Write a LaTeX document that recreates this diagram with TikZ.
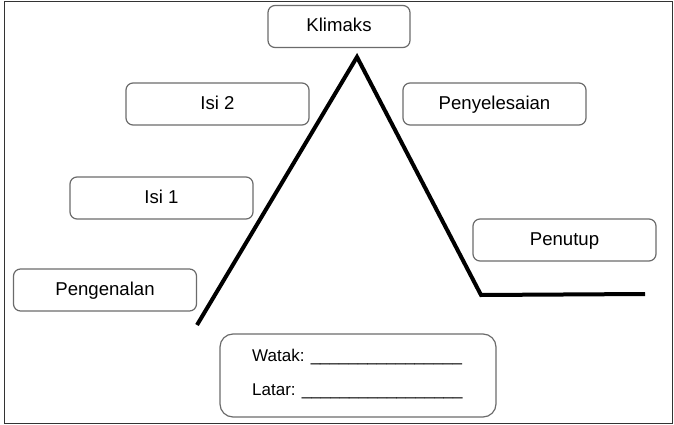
\documentclass[tikz,border=0pt]{standalone}
\usepackage{fontspec}
\setmainfont{Liberation Sans}
\begin{document}
\begin{tikzpicture}[x=1pt,y=-1pt,
  stage/.style={draw=black!58, line width=1.2pt, rounded corners=7pt,
    minimum width=183pt, minimum height=42pt, inner sep=0pt,
    text height=11pt, text depth=0pt,
    font=\fontsize{18.6}{20}\selectfont},
  plotline/.style={line width=4pt, line join=miter, black},
  fieldtext/.style={anchor=base west, inner sep=0pt, font=\fontsize{17}{19}\selectfont}]
\useasboundingbox (0,0) rectangle (674,425);
\draw[line width=1.5pt, black!80] (4.5,1.5) rectangle (672.5,423.5);
\node[stage, minimum width=142pt] (klimaks) at (339,26.5) {Klimaks};
\node[stage] (isi2) at (217.5,104) {Isi 2};
\node[stage] (penyelesaian) at (494.5,104) {Penyelesaian};
\node[stage] (isi1) at (161.5,198) {Isi 1};
\node[stage] (penutup) at (564.5,240) {Penutup};
\node[stage] (pengenalan) at (105,290) {Pengenalan};
\node[stage, minimum width=276pt, minimum height=83pt, rounded corners=13pt, text height=0pt] (info) at (358,375.5) {};
\node[fieldtext] (watak) at (252,361) {Watak: \_\_\_\_\_\_\_\_\_\_\_\_\_\_\_\_};
\node[fieldtext] (latar) at (252,395) {Latar: \_\_\_\_\_\_\_\_\_\_\_\_\_\_\_\_\_};
\coordinate (start) at (197,325);
\coordinate (peak) at (357,57);
\coordinate (fall) at (481,295);
\coordinate (finish) at (645,294);
\draw[plotline] (start) -- (peak) -- (fall) -- (finish);
\end{tikzpicture}
\end{document}
